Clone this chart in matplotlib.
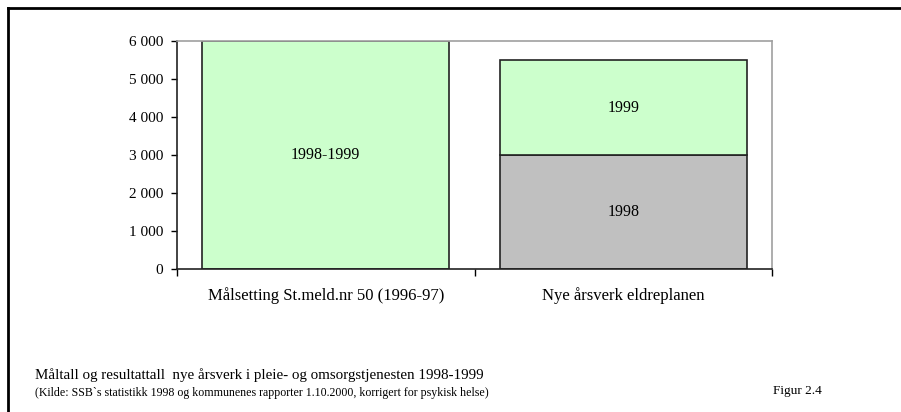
import matplotlib
matplotlib.use("Agg")
import matplotlib.pyplot as plt
from matplotlib.lines import Line2D

plt.rcParams['font.family'] = ['Liberation Serif', 'DejaVu Serif']

kategorier = ["Målsetting St.meld.nr 50 (1996-97)", "Nye årsverk eldreplanen"]
maal = [6000, 0]
aar_1998 = [0, 3000]
aar_1999 = [0, 2500]
yticks = [0, 1000, 2000, 3000, 4000, 5000, 6000]
ytick_labels = ["0", "1 000", "2 000", "3 000", "4 000", "5 000", "6 000"]

gronn = "#ccffcc"
gra = "#c0c0c0"

fig = plt.figure(figsize=(9.01, 4.12), dpi=100)
ax = fig.add_axes([177/901, 1-269/412, (772-177)/901, (269-41)/412])

x = [0, 1]
w = 0.83
# malsetting
ax.bar(x[0], maal[0], width=w, color=gronn, edgecolor="#222222", linewidth=1.2)
# resultat, stablet
ax.bar(x[1], aar_1998[1], width=w, color=gra, edgecolor="#222222", linewidth=1.2)
ax.bar(x[1], aar_1999[1], bottom=aar_1998[1], width=w, color=gronn, edgecolor="#222222", linewidth=1.2)

ax.text(x[0], maal[0]/2, "1998-1999", ha="center", va="center", fontsize=11.5)
ax.text(x[1], aar_1998[1]/2, "1998", ha="center", va="center", fontsize=11.5)
ax.text(x[1], aar_1998[1] + aar_1999[1]/2, "1999", ha="center", va="center", fontsize=11.5)

ax.set_xlim(-0.5, 1.5)
ax.set_ylim(0, 6000)
ax.set_yticks(yticks)
ax.set_yticklabels(ytick_labels, fontsize=11)
ax.set_xticks(x)
ax.set_xticklabels(kategorier, fontsize=12)
ax.set_xticks([-0.5, 0.5, 1.5], minor=True)
ax.tick_params(axis="x", which="major", length=0, pad=13)
ax.tick_params(axis="x", which="minor", length=5, width=1)
ax.tick_params(axis="y", length=4, width=1, pad=6)

for s in ["top", "right"]:
    ax.spines[s].set_color("#a0a0a0")
    ax.spines[s].set_linewidth(1.2)
for s in ["left", "bottom"]:
    ax.spines[s].set_color("#222222")
    ax.spines[s].set_linewidth(1.2)

fig.text(35/901, 1-375/412, "Måltall og resultattall  nye årsverk i pleie- og omsorgstjenesten 1998-1999",
         fontsize=10.8, va="center")
fig.text(35/901, 1-393/412, "(Kilde: SSB`s statistikk 1998 og kommunenes rapporter 1.10.2000, korrigert for psykisk helse)",
         fontsize=8.6, va="center")
fig.text(773/901, 1-391/412, "Figur 2.4", fontsize=9.5, va="center")

# ramme rundt figuren
fig.add_artist(Line2D([8/901, 8/901], [0, 1-8/412], transform=fig.transFigure, color="black", linewidth=2))
fig.add_artist(Line2D([8/901, 1], [1-8/412, 1-8/412], transform=fig.transFigure, color="black", linewidth=2))

fig.savefig("out.png", dpi=100)
